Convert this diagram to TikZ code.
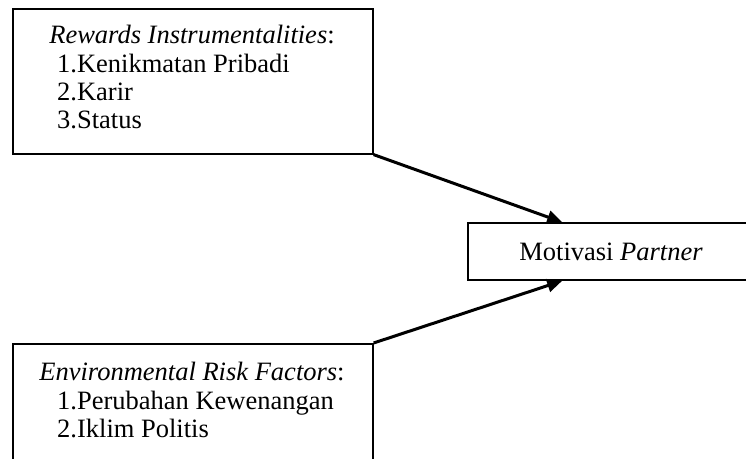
\documentclass[tikz,border=0pt]{standalone}
\usepackage{fontspec}
\setmainfont{Liberation Serif}
\usetikzlibrary{arrows.meta}
\begin{document}
\begin{tikzpicture}[x=1pt,y=-1pt,
    box/.style={draw,line width=1.6pt,minimum width=360pt,anchor=north west,inner sep=0pt},
    txt/.style={font=\fontsize{26.5}{30}\selectfont,inner sep=0pt},
    arrow/.style={line width=3pt,-{Triangle[length=15pt,width=13pt]}}]
    \useasboundingbox (0,0) rectangle (746,458);
    \node[box,minimum height=145pt] (rewards) at (12,8) {};
    \node[txt,anchor=base] (rewardstitle) at (192,43) {\textit{Rewards Instrumentalities}:};
    \node[txt,anchor=base west] (rewardsone) at (57,72) {1.Kenikmatan Pribadi};
    \node[txt,anchor=base west] (rewardstwo) at (57,100) {2.Karir};
    \node[txt,anchor=base west] (rewardsthree) at (57,128) {3.Status};
    \node[box,minimum height=130pt] (env) at (12,343) {};
    \node[txt,anchor=base] (envtitle) at (192,380) {\textit{Environmental Risk Factors}:};
    \node[txt,anchor=base west] (envone) at (57,409) {1.Perubahan Kewenangan};
    \node[txt,anchor=base west] (envtwo) at (57,437) {2.Iklim Politis};
    \node[box,txt,draw,line width=1.6pt,minimum width=286pt,minimum height=57pt,anchor=center] (motivasi) at (611,251.5) {Motivasi \textit{Partner}};
    \coordinate (intop) at ([xshift=95pt]motivasi.north west);
    \coordinate (inbot) at ([xshift=95pt]motivasi.south west);
    \draw[arrow] (rewards.south east) -- (intop);
    \draw[arrow] (env.north east) -- (inbot);
  \end{tikzpicture}
\end{document}
